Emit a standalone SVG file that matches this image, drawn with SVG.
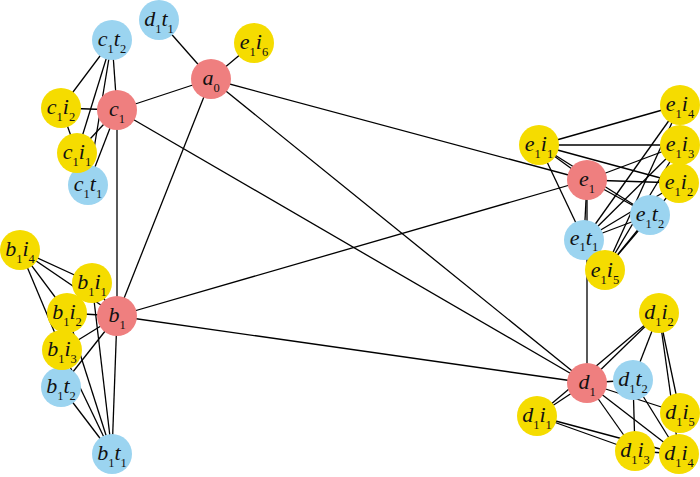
<svg xmlns="http://www.w3.org/2000/svg" width="700" height="477" viewBox="0 0 700 477">
<style>
.e line{stroke:#000;stroke-width:1.3}
.r{fill:#ef7f7f}
.b{fill:#9bd4f0}
.y{fill:#f5dc00}
text{font-family:"Liberation Serif","Times New Roman",serif;font-style:italic;font-size:22px;fill:#111;text-anchor:middle}
.s{font-style:normal;font-size:12.5px}
</style>
<rect width="700" height="477" fill="#fff"/>
<g id="connectors" class="e">
<line x1="211" y1="79" x2="159" y2="20"/>
<line x1="211" y1="79" x2="254" y2="43"/>
<line x1="211" y1="79" x2="117" y2="110"/>
<line x1="211" y1="79" x2="117" y2="316"/>
<line x1="211" y1="79" x2="587" y2="180"/>
<line x1="211" y1="79" x2="587" y2="383"/>
<line x1="117" y1="110" x2="117" y2="316"/>
<line x1="117" y1="110" x2="587" y2="383"/>
<line x1="117" y1="316" x2="587" y2="180"/>
<line x1="117" y1="316" x2="587" y2="383"/>
<line x1="587" y1="180" x2="587" y2="383"/>
<line x1="112" y1="40" x2="61" y2="108"/>
<line x1="112" y1="40" x2="117" y2="110"/>
<line x1="112" y1="40" x2="77" y2="153"/>
<line x1="112" y1="40" x2="88" y2="185"/>
<line x1="61" y1="108" x2="117" y2="110"/>
<line x1="61" y1="108" x2="77" y2="153"/>
<line x1="117" y1="110" x2="77" y2="153"/>
<line x1="117" y1="110" x2="88" y2="185"/>
<line x1="20" y1="250" x2="92" y2="283"/>
<line x1="20" y1="250" x2="117" y2="316"/>
<line x1="20" y1="250" x2="67" y2="313"/>
<line x1="20" y1="250" x2="62" y2="350"/>
<line x1="117" y1="316" x2="92" y2="283"/>
<line x1="117" y1="316" x2="67" y2="313"/>
<line x1="117" y1="316" x2="62" y2="350"/>
<line x1="117" y1="316" x2="61" y2="387"/>
<line x1="117" y1="316" x2="112" y2="454"/>
<line x1="112" y1="454" x2="61" y2="387"/>
<line x1="112" y1="454" x2="62" y2="350"/>
<line x1="112" y1="454" x2="67" y2="313"/>
<line x1="112" y1="454" x2="92" y2="283"/>
<line x1="539" y1="145" x2="680" y2="105"/>
<line x1="539" y1="145" x2="680" y2="145"/>
<line x1="539" y1="145" x2="679" y2="183"/>
<line x1="539" y1="145" x2="587" y2="180"/>
<line x1="539" y1="145" x2="650" y2="215"/>
<line x1="539" y1="145" x2="584" y2="240"/>
<line x1="587" y1="180" x2="680" y2="145"/>
<line x1="587" y1="180" x2="679" y2="183"/>
<line x1="587" y1="180" x2="650" y2="215"/>
<line x1="587" y1="180" x2="584" y2="240"/>
<line x1="584" y1="240" x2="680" y2="105"/>
<line x1="584" y1="240" x2="680" y2="145"/>
<line x1="584" y1="240" x2="679" y2="183"/>
<line x1="584" y1="240" x2="650" y2="215"/>
<line x1="605" y1="270" x2="680" y2="105"/>
<line x1="605" y1="270" x2="680" y2="145"/>
<line x1="605" y1="270" x2="679" y2="183"/>
<line x1="605" y1="270" x2="650" y2="215"/>
<line x1="587" y1="383" x2="659" y2="313"/>
<line x1="537" y1="416" x2="659" y2="313"/>
<line x1="587" y1="383" x2="633" y2="380"/>
<line x1="587" y1="383" x2="537" y2="416"/>
<line x1="587" y1="383" x2="635" y2="451"/>
<line x1="587" y1="383" x2="679" y2="454"/>
<line x1="587" y1="383" x2="680" y2="413"/>
<line x1="537" y1="416" x2="635" y2="451"/>
<line x1="537" y1="416" x2="679" y2="454"/>
<line x1="633" y1="380" x2="635" y2="451"/>
<line x1="633" y1="380" x2="659" y2="313"/>
<line x1="633" y1="380" x2="679" y2="454"/>
<line x1="659" y1="313" x2="680" y2="413"/>
<line x1="659" y1="313" x2="679" y2="454"/>
<line x1="635" y1="451" x2="679" y2="454"/>
</g>
<g id="d1t1"><circle class="b" cx="159" cy="20" r="20"/><text x="159" y="26">d<tspan class="s" dy="7">1</tspan><tspan dy="-7">t</tspan><tspan class="s" dy="7">1</tspan></text></g>
<g id="e1i6"><circle class="y" cx="254" cy="43" r="20"/><text x="254" y="49">e<tspan class="s" dy="7">1</tspan><tspan dy="-7">i</tspan><tspan class="s" dy="7">6</tspan></text></g>
<g id="a0"><circle class="r" cx="211" cy="79" r="20"/><text x="211" y="85">a<tspan class="s" dy="7">0</tspan></text></g>
<g id="c1t2"><circle class="b" cx="112" cy="40" r="20"/><text x="112" y="46">c<tspan class="s" dy="7">1</tspan><tspan dy="-7">t</tspan><tspan class="s" dy="7">2</tspan></text></g>
<g id="c1t1"><circle class="b" cx="88" cy="185" r="20"/><text x="88" y="191">c<tspan class="s" dy="7">1</tspan><tspan dy="-7">t</tspan><tspan class="s" dy="7">1</tspan></text></g>
<g id="c1i1"><circle class="y" cx="77" cy="153" r="20"/><text x="77" y="159">c<tspan class="s" dy="7">1</tspan><tspan dy="-7">i</tspan><tspan class="s" dy="7">1</tspan></text></g>
<g id="c1i2"><circle class="y" cx="61" cy="108" r="20"/><text x="61" y="114">c<tspan class="s" dy="7">1</tspan><tspan dy="-7">i</tspan><tspan class="s" dy="7">2</tspan></text></g>
<g id="c1"><circle class="r" cx="117" cy="110" r="20"/><text x="117" y="116">c<tspan class="s" dy="7">1</tspan></text></g>
<g id="b1i4"><circle class="y" cx="20" cy="250" r="20"/><text x="20" y="256">b<tspan class="s" dy="7">1</tspan><tspan dy="-7">i</tspan><tspan class="s" dy="7">4</tspan></text></g>
<g id="b1t1"><circle class="b" cx="112" cy="454" r="20"/><text x="112" y="460">b<tspan class="s" dy="7">1</tspan><tspan dy="-7">t</tspan><tspan class="s" dy="7">1</tspan></text></g>
<g id="b1t2"><circle class="b" cx="61" cy="387" r="20"/><text x="61" y="393">b<tspan class="s" dy="7">1</tspan><tspan dy="-7">t</tspan><tspan class="s" dy="7">2</tspan></text></g>
<g id="b1i1"><circle class="y" cx="92" cy="283" r="20"/><text x="92" y="289">b<tspan class="s" dy="7">1</tspan><tspan dy="-7">i</tspan><tspan class="s" dy="7">1</tspan></text></g>
<g id="b1i2"><circle class="y" cx="67" cy="313" r="20"/><text x="67" y="319">b<tspan class="s" dy="7">1</tspan><tspan dy="-7">i</tspan><tspan class="s" dy="7">2</tspan></text></g>
<g id="b1i3"><circle class="y" cx="62" cy="350" r="20"/><text x="62" y="356">b<tspan class="s" dy="7">1</tspan><tspan dy="-7">i</tspan><tspan class="s" dy="7">3</tspan></text></g>
<g id="b1"><circle class="r" cx="117" cy="316" r="20"/><text x="117" y="322">b<tspan class="s" dy="7">1</tspan></text></g>
<g id="e1i1"><circle class="y" cx="539" cy="145" r="20"/><text x="539" y="151">e<tspan class="s" dy="7">1</tspan><tspan dy="-7">i</tspan><tspan class="s" dy="7">1</tspan></text></g>
<g id="e1"><circle class="r" cx="587" cy="180" r="20"/><text x="587" y="186">e<tspan class="s" dy="7">1</tspan></text></g>
<g id="e1i4"><circle class="y" cx="680" cy="105" r="20"/><text x="680" y="111">e<tspan class="s" dy="7">1</tspan><tspan dy="-7">i</tspan><tspan class="s" dy="7">4</tspan></text></g>
<g id="e1i3"><circle class="y" cx="680" cy="145" r="20"/><text x="680" y="151">e<tspan class="s" dy="7">1</tspan><tspan dy="-7">i</tspan><tspan class="s" dy="7">3</tspan></text></g>
<g id="e1i2"><circle class="y" cx="679" cy="183" r="20"/><text x="679" y="189">e<tspan class="s" dy="7">1</tspan><tspan dy="-7">i</tspan><tspan class="s" dy="7">2</tspan></text></g>
<g id="e1t2"><circle class="b" cx="650" cy="215" r="20"/><text x="650" y="221">e<tspan class="s" dy="7">1</tspan><tspan dy="-7">t</tspan><tspan class="s" dy="7">2</tspan></text></g>
<g id="e1t1"><circle class="b" cx="584" cy="240" r="20"/><text x="584" y="245">e<tspan class="s" dy="6">1</tspan><tspan dy="-6">t</tspan><tspan class="s" dy="6">1</tspan></text></g>
<g id="e1i5"><circle class="y" cx="605" cy="270" r="20"/><text x="605" y="277">e<tspan class="s" dy="7">1</tspan><tspan dy="-7">i</tspan><tspan class="s" dy="7">5</tspan></text></g>
<g id="d1i2"><circle class="y" cx="659" cy="313" r="20"/><text x="659" y="319">d<tspan class="s" dy="7">1</tspan><tspan dy="-7">i</tspan><tspan class="s" dy="7">2</tspan></text></g>
<g id="d1"><circle class="r" cx="587" cy="383" r="20"/><text x="587" y="389">d<tspan class="s" dy="7">1</tspan></text></g>
<g id="d1t2"><circle class="b" cx="633" cy="380" r="20"/><text x="633" y="386">d<tspan class="s" dy="7">1</tspan><tspan dy="-7">t</tspan><tspan class="s" dy="7">2</tspan></text></g>
<g id="d1i5"><circle class="y" cx="680" cy="413" r="20"/><text x="680" y="419">d<tspan class="s" dy="7">1</tspan><tspan dy="-7">i</tspan><tspan class="s" dy="7">5</tspan></text></g>
<g id="d1i1"><circle class="y" cx="537" cy="416" r="20"/><text x="537" y="422">d<tspan class="s" dy="7">1</tspan><tspan dy="-7">i</tspan><tspan class="s" dy="7">1</tspan></text></g>
<g id="d1i3"><circle class="y" cx="635" cy="451" r="20"/><text x="635" y="457">d<tspan class="s" dy="7">1</tspan><tspan dy="-7">i</tspan><tspan class="s" dy="7">3</tspan></text></g>
<g id="d1i4"><circle class="y" cx="679" cy="454" r="20"/><text x="679" y="460">d<tspan class="s" dy="7">1</tspan><tspan dy="-7">i</tspan><tspan class="s" dy="7">4</tspan></text></g>
</svg>
